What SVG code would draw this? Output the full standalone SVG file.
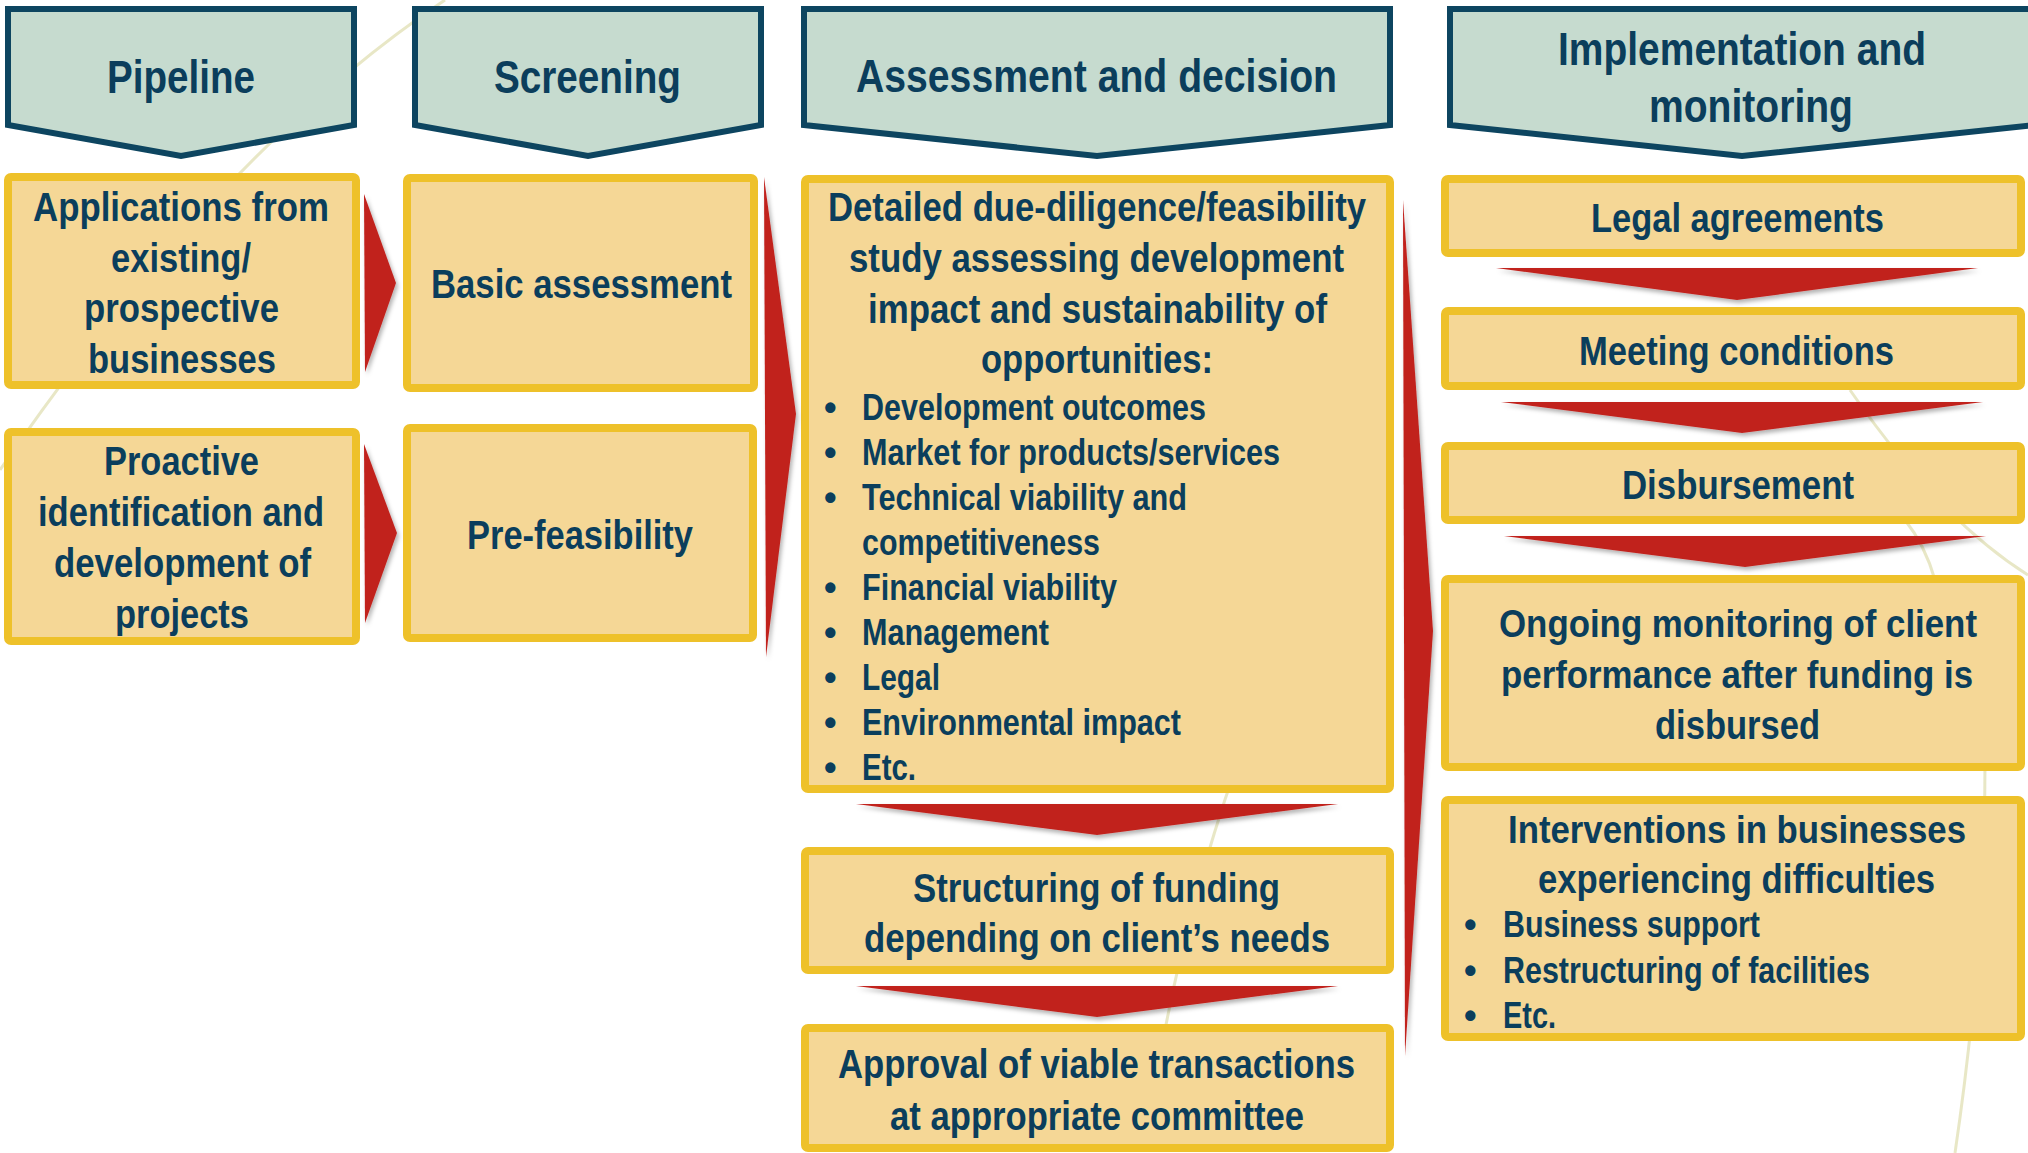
<svg xmlns="http://www.w3.org/2000/svg" width="2028" height="1153" viewBox="0 0 2028 1153">
<defs>
<style>
.hdr{fill:#c6dbcf;stroke:#0d4560;stroke-width:6;stroke-linejoin:miter}
.box{fill:#f5d796;stroke:#eec12a;stroke-width:8}
.arr{fill:#c1241f;filter:url(#sh)}
.bg{fill:none;stroke:#d9d7a0;stroke-width:3;opacity:0.6}
text{font-family:"Liberation Sans Narrow","Arial Narrow","Liberation Sans",Arial,sans-serif;font-weight:bold;fill:#0b3e5c}
.h{font-size:46px}
.t{font-size:40px}
.s{font-size:38.5px}
.b{font-size:36px}
</style>
<filter id="sh" x="-20%" y="-20%" width="150%" height="160%">
<feDropShadow dx="2" dy="3" stdDeviation="2" flood-color="#000" flood-opacity="0.3"/>
</filter>
</defs>
<rect width="2028" height="1153" fill="#ffffff"/>
<g id="background">
<path class="bg" d="M 445 0 Q 220 150 0 470"/>
<path class="bg" d="M 1985 760 Q 1985 950 1955 1153"/>
<path class="bg" d="M 1850 390 Q 1940 520 2028 575"/>
<path class="bg" d="M 1905 520 Q 1925 545 1935 580"/>
<path class="bg" d="M 1235 770 Q 1190 900 1165 1030"/>
</g>

<g id="hdr-pipeline">
<polygon class="hdr" points="8,9 354,9 354,125 181,156 8,125"/>
<text class="h" x="107" y="93" textLength="148" lengthAdjust="spacingAndGlyphs">Pipeline</text>
</g>
<g id="hdr-screening">
<polygon class="hdr" points="415,9 761,9 761,125 588,156 415,125"/>
<text class="h" x="494" y="93" textLength="187" lengthAdjust="spacingAndGlyphs">Screening</text>
</g>
<g id="hdr-assessment">
<polygon class="hdr" points="804,9 1390,9 1390,125 1097,156 804,125"/>
<text class="h" x="856" y="92" textLength="481" lengthAdjust="spacingAndGlyphs">Assessment and decision</text>
</g>
<g id="hdr-implementation">
<polygon class="hdr" points="1450,9 2036,9 2036,125 1742,156 1450,125"/>
<text class="h" x="1558" y="65" textLength="368" lengthAdjust="spacingAndGlyphs">Implementation and</text>
<text class="h" x="1649" y="122" textLength="204" lengthAdjust="spacingAndGlyphs">monitoring</text>
</g>

<g id="applications">
<rect class="box" x="8" y="177" width="348" height="208" rx="3"/>
<text class="t" x="33" y="221" textLength="296" lengthAdjust="spacingAndGlyphs">Applications from</text>
<text class="t" x="111" y="272" textLength="140" lengthAdjust="spacingAndGlyphs">existing/</text>
<text class="t" x="84" y="322" textLength="195" lengthAdjust="spacingAndGlyphs">prospective</text>
<text class="t" x="88" y="373" textLength="188" lengthAdjust="spacingAndGlyphs">businesses</text>
</g>
<g id="proactive">
<rect class="box" x="8" y="432" width="348" height="209" rx="3"/>
<text class="t" x="104" y="475" textLength="155" lengthAdjust="spacingAndGlyphs">Proactive</text>
<text class="t" x="38" y="526" textLength="286" lengthAdjust="spacingAndGlyphs">identification and</text>
<text class="t" x="54" y="577" textLength="257" lengthAdjust="spacingAndGlyphs">development of</text>
<text class="t" x="115" y="628" textLength="134" lengthAdjust="spacingAndGlyphs">projects</text>
</g>
<g id="basic-assessment">
<rect class="box" x="407" y="178" width="347" height="210" rx="3"/>
<text class="t" x="431" y="298" textLength="301" lengthAdjust="spacingAndGlyphs">Basic assessment</text>
</g>
<g id="pre-feasibility">
<rect class="box" x="407" y="428" width="346" height="210" rx="3"/>
<text class="t" x="467" y="549" textLength="226" lengthAdjust="spacingAndGlyphs">Pre-feasibility</text>
</g>
<g id="due-diligence">
<rect class="box" x="805" y="179" width="585" height="610" rx="3"/>
<text class="t" x="828" y="221" textLength="538" lengthAdjust="spacingAndGlyphs">Detailed due-diligence/feasibility</text>
<text class="t" x="849" y="272" textLength="495" lengthAdjust="spacingAndGlyphs">study assessing development</text>
<text class="t" x="868" y="323" textLength="459" lengthAdjust="spacingAndGlyphs">impact and sustainability of</text>
<text class="t" x="981" y="373" textLength="232" lengthAdjust="spacingAndGlyphs">opportunities:</text>
<text class="b" x="824" y="420">•</text>
<text class="b" x="862" y="420" textLength="344" lengthAdjust="spacingAndGlyphs">Development outcomes</text>
<text class="b" x="824" y="465">•</text>
<text class="b" x="862" y="465" textLength="418" lengthAdjust="spacingAndGlyphs">Market for products/services</text>
<text class="b" x="824" y="510">•</text>
<text class="b" x="862" y="510" textLength="325" lengthAdjust="spacingAndGlyphs">Technical viability and</text>
<text class="b" x="862" y="555" textLength="238" lengthAdjust="spacingAndGlyphs">competitiveness</text>
<text class="b" x="824" y="600">•</text>
<text class="b" x="862" y="600" textLength="255" lengthAdjust="spacingAndGlyphs">Financial viability</text>
<text class="b" x="824" y="645">•</text>
<text class="b" x="862" y="645" textLength="187" lengthAdjust="spacingAndGlyphs">Management</text>
<text class="b" x="824" y="690">•</text>
<text class="b" x="862" y="690" textLength="78" lengthAdjust="spacingAndGlyphs">Legal</text>
<text class="b" x="824" y="735">•</text>
<text class="b" x="862" y="735" textLength="319" lengthAdjust="spacingAndGlyphs">Environmental impact</text>
<text class="b" x="824" y="780">•</text>
<text class="b" x="862" y="780" textLength="54" lengthAdjust="spacingAndGlyphs">Etc.</text>
</g>
<g id="structuring">
<rect class="box" x="805" y="851" width="585" height="119" rx="3"/>
<text class="t" x="913" y="902" textLength="367" lengthAdjust="spacingAndGlyphs">Structuring of funding</text>
<text class="t" x="864" y="952" textLength="466" lengthAdjust="spacingAndGlyphs">depending on client’s needs</text>
</g>
<g id="approval">
<rect class="box" x="805" y="1028" width="585" height="120" rx="3"/>
<text class="t" x="838" y="1078" textLength="517" lengthAdjust="spacingAndGlyphs">Approval of viable transactions</text>
<text class="t" x="890" y="1130" textLength="414" lengthAdjust="spacingAndGlyphs">at appropriate committee</text>
</g>
<g id="legal-agreements">
<rect class="box" x="1445" y="179" width="576" height="74" rx="3"/>
<text class="t" x="1591" y="232" textLength="293" lengthAdjust="spacingAndGlyphs">Legal agreements</text>
</g>
<g id="meeting-conditions">
<rect class="box" x="1445" y="311" width="576" height="75" rx="3"/>
<text class="t" x="1579" y="365" textLength="315" lengthAdjust="spacingAndGlyphs">Meeting conditions</text>
</g>
<g id="disbursement">
<rect class="box" x="1445" y="446" width="576" height="74" rx="3"/>
<text class="t" x="1622" y="499" textLength="232" lengthAdjust="spacingAndGlyphs">Disbursement</text>
</g>
<g id="ongoing-monitoring">
<rect class="box" x="1445" y="579" width="576" height="188" rx="3"/>
<text class="s" x="1499" y="637" textLength="478" lengthAdjust="spacingAndGlyphs">Ongoing monitoring of client</text>
<text class="s" x="1501" y="688" textLength="472" lengthAdjust="spacingAndGlyphs">performance after funding is</text>
<text class="t" x="1655" y="739" textLength="165" lengthAdjust="spacingAndGlyphs">disbursed</text>
</g>
<g id="interventions">
<rect class="box" x="1445" y="800" width="576" height="237" rx="3"/>
<text class="s" x="1508" y="843" textLength="458" lengthAdjust="spacingAndGlyphs">Interventions in businesses</text>
<text class="t" x="1538" y="893" textLength="397" lengthAdjust="spacingAndGlyphs">experiencing difficulties</text>
<text class="b" x="1464" y="937">•</text>
<text class="b" x="1503" y="937" textLength="257" lengthAdjust="spacingAndGlyphs">Business support</text>
<text class="b" x="1464" y="983">•</text>
<text class="b" x="1503" y="983" textLength="367" lengthAdjust="spacingAndGlyphs">Restructuring of facilities</text>
<text class="b" x="1464" y="1028">•</text>
<text class="b" x="1503" y="1028" textLength="53" lengthAdjust="spacingAndGlyphs">Etc.</text>
</g>

<g id="connectors">
<polygon class="arr" points="364,194 396,283 365,372"/>
<polygon class="arr" points="364,444 397,533 365,623"/>
<polygon class="arr" points="764,177 796,414 766,657"/>
<polygon class="arr" points="1403,200 1433,631 1405,1056"/>
<polygon class="arr" points="856,804 1338,804 1097,835"/>
<polygon class="arr" points="856,986 1338,986 1097,1017"/>
<polygon class="arr" points="1496,268 1978,268 1737,300"/>
<polygon class="arr" points="1501,402 1983,402 1742,433"/>
<polygon class="arr" points="1504,536 1986,536 1745,567"/>
</g>
</svg>
